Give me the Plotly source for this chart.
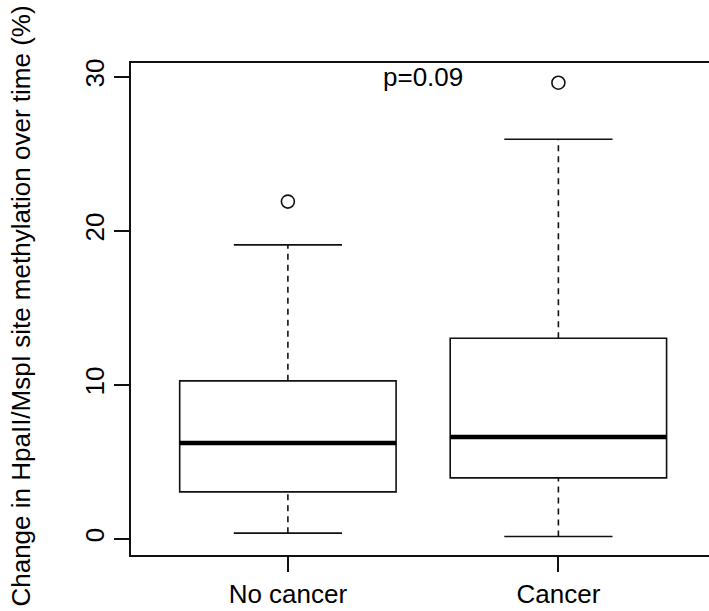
import plotly.graph_objects as go

# Group summary statistics (percent change over time)
groups = ["No cancer", "Cancer"]
positions = [1, 2]
q1 = [3.05, 3.96]
median = [6.23, 6.62]
q3 = [10.26, 13.03]
whisker_low = [0.37, 0.15]
whisker_high = [19.09, 25.95]
outliers = [[21.9], [29.62]]
p_label = "p=0.09"

y_ticks = [0, 10, 20, 30]

box_width = 0.8
staple_half = 0.2
line_col = "#111111"
font_family = "Liberation Sans, Arial, Helvetica, sans-serif"
font_size = 26

fig = go.Figure()

for i, x in enumerate(positions):
    # box body (quartiles only; whiskers drawn separately as dashed lines)
    fig.add_trace(go.Box(
        x=[x], q1=[q1[i]], median=[median[i]], q3=[q3[i]],
        lowerfence=[q1[i]], upperfence=[q3[i]],
        width=box_width, fillcolor="rgba(0,0,0,0)",
        line=dict(color=line_col, width=1.6),
        boxpoints=False, hoverinfo="skip", showlegend=False,
    ))
    # thick median bar
    fig.add_trace(go.Scatter(
        x=[x - box_width / 2, x + box_width / 2], y=[median[i], median[i]],
        mode="lines", line=dict(color="#000000", width=4.5),
        hoverinfo="skip", showlegend=False,
    ))
    # dashed whiskers
    for lo, hi in ((whisker_low[i], q1[i]), (q3[i], whisker_high[i])):
        fig.add_trace(go.Scatter(
            x=[x, x], y=[lo, hi], mode="lines",
            line=dict(color=line_col, width=1.6, dash="6px,5px"),
            hoverinfo="skip", showlegend=False,
        ))
    # staples
    for v in (whisker_low[i], whisker_high[i]):
        fig.add_trace(go.Scatter(
            x=[x - staple_half, x + staple_half], y=[v, v], mode="lines",
            line=dict(color=line_col, width=1.6),
            hoverinfo="skip", showlegend=False,
        ))
    # outlying points
    fig.add_trace(go.Scatter(
        x=[x] * len(outliers[i]), y=outliers[i], mode="markers",
        marker=dict(symbol="circle-open", size=13, color=line_col,
                    line=dict(width=1.6, color=line_col)),
        hoverinfo="skip", showlegend=False,
    ))

fig.add_annotation(
    x=1.5, y=30, xref="x", yref="y", text=p_label, showarrow=False,
    xanchor="center", yanchor="middle",
    font=dict(family=font_family, size=font_size, color="#000000"),
)

fig.add_annotation(
    x=0, y=0.505, xref="paper", yref="paper",
    text="Change in HpaII/MspI site methylation over time (%)",
    textangle=-90, showarrow=False, xanchor="center", yanchor="middle",
    xshift=-110,
    font=dict(family=font_family, size=font_size, color="#000000"),
)

fig.update_layout(
    width=709, height=611,
    margin=dict(l=131, r=0, t=63, b=56, autoexpand=False),
    paper_bgcolor="white", plot_bgcolor="white",
    font=dict(family=font_family, size=font_size, color="#000000"),
    xaxis=dict(
        range=[0.42, 0.42 + 578 / 270.5],
        tickmode="array", tickvals=positions, ticktext=groups,
        showline=True, linecolor=line_col, linewidth=1.6, mirror=True,
        ticks="outside", ticklen=15, tickwidth=1.6, tickcolor=line_col,
        showgrid=False, zeroline=False, automargin=False,
    ),
    yaxis=dict(
        range=[-1.05, 30.9],
        tickmode="array", tickvals=y_ticks,
        tickangle=-90,
        showline=True, linecolor=line_col, linewidth=1.6, mirror=False,
        ticks="outside", ticklen=15, tickwidth=1.6, tickcolor=line_col,
        showgrid=False, zeroline=False, automargin=False,
    ),
)

fig.write_html("out.html")
